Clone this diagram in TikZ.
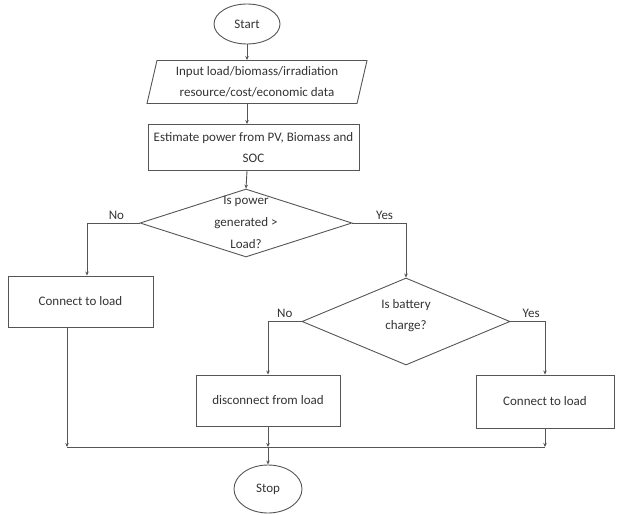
\documentclass[tikz,border=0pt]{standalone}
\usepackage{fontspec}
\setmainfont{Carlito}
\usetikzlibrary{shapes.geometric,arrows.meta}

\definecolor{edge}{HTML}{555555}
\definecolor{ink}{HTML}{333333}

\tikzset{
  term/.style={ellipse, draw=edge, line width=0.9pt, inner sep=0pt},
  proc/.style={rectangle, draw=edge, line width=0.9pt, align=center, inner sep=2pt},
  io/.style={trapezium, trapezium left angle=75, trapezium right angle=105,
    trapezium stretches body=true, draw=edge, line width=0.9pt, align=center, inner xsep=0pt},
  decision/.style={diamond, draw=edge, line width=0.9pt, inner sep=0pt},
  arr/.style={draw=edge, line width=0.9pt, -{Stealth[length=4pt,width=3.5pt]}},
  line/.style={draw=edge, line width=0.9pt}
}

\begin{document}
\begin{tikzpicture}[x=1pt, y=-1pt, font=\fontsize{13}{21}\selectfont, text=ink]
\useasboundingbox (0,0) rectangle (620,514);

% main column
\node[term, minimum width=66pt, minimum height=40pt] (start) at (247,24) {Start};
\node[io, minimum width=220pt, minimum height=43pt] (input) at (257,82)
  {Input load/biomass/irradiation\\resource/cost/economic data};
\node[proc, minimum width=211pt, minimum height=46pt] (est) at (253.5,147.5)
  {Estimate power from PV, Biomass and\\SOC};
\node[decision, minimum width=212pt, minimum height=68pt] (q1) at (246,223) {};
\node[align=center, font=\fontsize{13}{22}\selectfont] (q1txt) at (246,222) {Is power\\generated >\\Load?};

% left branch
\node[proc, minimum width=145pt, minimum height=51pt] (con1) at (80.5,301.5) {Connect to load};

% right branch
\node[decision, minimum width=208pt, minimum height=87pt] (q2) at (406,321.5) {};
\node[align=center] (q2txt) at (406,316) {Is battery\\charge?};
\node[proc, minimum width=144pt, minimum height=51pt] (disc) at (268,400.5) {disconnect from load};
\node[proc, minimum width=138pt, minimum height=53pt] (con2) at (545,401.5) {Connect to load};

\node[term, minimum width=68pt, minimum height=48pt] (stop) at (268,489) {Stop};

\coordinate (join) at (268,447);
\coordinate (c1) at ([xshift=-13.5pt]con1.south);

\draw[arr] (start.south) -- (start.south |- input.north);
\draw[arr] (start.south |- input.south) -- (start.south |- est.north);
\draw[arr] (start.south |- est.south) -- (q1.north);

\draw[arr] (q1.west) -| ([xshift=6.5pt]con1.north) node[pos=0.22, above] {No};
\draw[arr] (q1.east) -| (q2.north) node[pos=0.3, above] {Yes};

\draw[arr] (q2.west) -| (disc.north) node[pos=0.25, above] {No};
\draw[arr] (q2.east) -| (con2.north) node[pos=0.3, above] {Yes};

\draw[line] (c1 |- join) -- (con2.south |- join);
\draw[arr] (c1) -- (c1 |- join);
\draw[arr] (disc.south) -- (join);
\draw[arr] (con2.south) -- (con2.south |- join);
\draw[arr] (join) -- (stop.north);
\end{tikzpicture}
\end{document}
